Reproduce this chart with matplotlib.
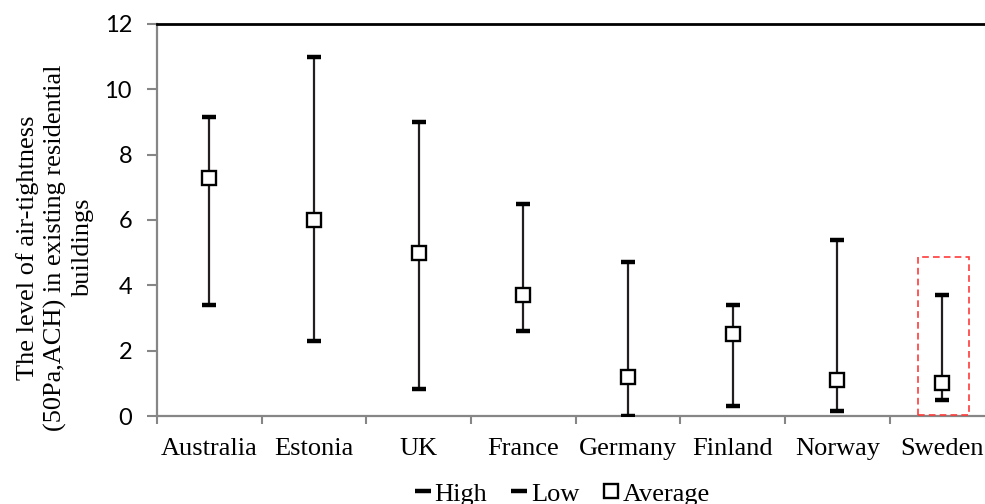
import matplotlib.pyplot as plt
from matplotlib.lines import Line2D
from matplotlib.patches import Rectangle

countries = ['Australia', 'Estonia', 'UK', 'France', 'Germany', 'Finland', 'Norway', 'Sweden']
high = [9.15, 11.0, 9.0, 6.5, 4.7, 3.4, 5.4, 3.7]
low = [3.4, 2.3, 0.83, 2.6, 0.0, 0.3, 0.15, 0.5]
average = [7.3, 6.0, 5.0, 3.7, 1.2, 2.5, 1.1, 1.0]
yticks = [0, 2, 4, 6, 8, 10, 12]

serif = ['Liberation Serif', 'DejaVu Serif']
axgray = '#868686'

fig = plt.figure(figsize=(9.85, 5.04), dpi=100)
ax = fig.add_axes([0.1594, 0.1746, 0.850, 0.7778])

x = list(range(len(countries)))

# whiskers, caps and the average markers
ax.vlines(x, low, high, color='#231f20', lw=1.6, zorder=2)
ax.plot(x, high, ls='none', marker='_', ms=10.5, mew=3.2, color='black', zorder=3)
ax.plot(x, low, ls='none', marker='_', ms=10.5, mew=3.2, color='black', zorder=3)
ax.plot(x, average, ls='none', marker='s', ms=9.5, mew=1.7, mfc='white', mec='black', zorder=4)

# highlight box round Sweden
sw = countries.index('Sweden')
ax.add_patch(Rectangle((sw - 0.23, 0.03), 0.49, 4.85, fill=False, ec='#ff3b3b',
                       ls=(0, (4, 2.5)), lw=1.2, zorder=5))

ax.set_xlim(-0.5, len(countries) - 0.5)
ax.set_ylim(0, 12)
ax.set_yticks(yticks)
ax.set_yticklabels([str(v) for v in yticks], family=['Lato', 'DejaVu Sans'], fontsize=17)

ax.set_xticks([i - 0.5 for i in range(len(countries) + 1)])
ax.set_xticklabels([])
ax.set_xticks(x, minor=True)
ax.set_xticklabels(countries, minor=True, family=serif, fontsize=19)
ax.tick_params(axis='x', which='major', direction='out', length=6, width=1.5, color=axgray)
ax.tick_params(axis='x', which='minor', length=0, pad=16)
ax.tick_params(axis='y', direction='out', length=7, width=1.5, color=axgray, pad=11)

for side in ['left', 'bottom']:
    ax.spines[side].set_color(axgray)
    ax.spines[side].set_linewidth(1.6)
ax.spines['top'].set_color('black')
ax.spines['top'].set_linewidth(2)
ax.spines['right'].set_visible(False)

fig.text(0.056, 0.508, 'The level of air-tightness\n(50Pa,ACH) in existing residential\nbuildings',
         rotation=90, ha='center', va='center', multialignment='center',
         family=serif, fontsize=19, linespacing=1.28)

handles = [
    Line2D([], [], ls='none', marker='_', ms=11, mew=3.2, color='black'),
    Line2D([], [], ls='none', marker='_', ms=11, mew=3.2, color='black'),
    Line2D([], [], ls='none', marker='s', ms=9.5, mew=1.7, mfc='white', mec='black'),
]
fig.legend(handles, ['High', 'Low', 'Average'], loc='center', bbox_to_anchor=(0.571, 0.02),
           ncol=3, frameon=False, prop={'family': serif, 'size': 19},
           handlelength=0.6, handletextpad=0.15, columnspacing=0.9, borderpad=0)

fig.savefig('out.png', dpi=100)
